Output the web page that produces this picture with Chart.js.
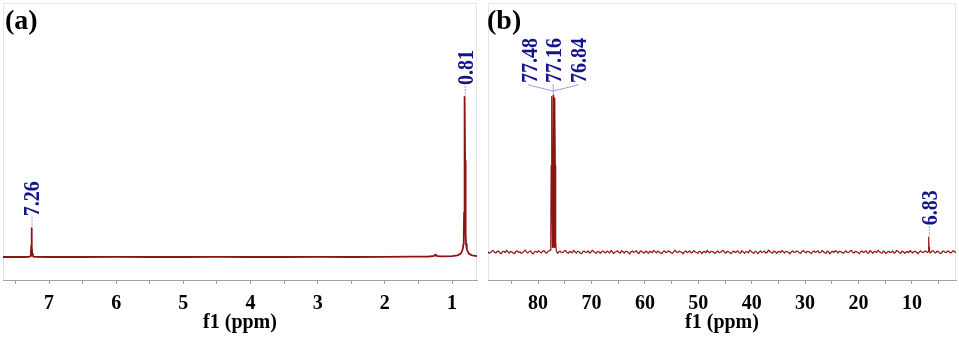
<!DOCTYPE html>
<html><head><meta charset="utf-8">
<script src="https://cdn.jsdelivr.net/npm/chart.js@4/dist/chart.umd.min.js"></script>
<style>
html,body{margin:0;padding:0;background:#fff;}
#wrap{position:relative;width:959px;height:337px;overflow:hidden;background:#fff;}
canvas{position:absolute;top:0;}
</style></head><body>
<div id="wrap">
<canvas id="ca" width="480" height="337" style="left:0"></canvas>
<canvas id="cb" width="479" height="337" style="left:480px"></canvas>
</div>
<script>
// ---------- data ----------
const panelTitles = ['(a)', '(b)'];
const axisTitle = 'f1 (ppm)';

// panel (a): 1H spectrum
const rangeA = [0.628, 7.685];
const tickLabelsA = [7, 6, 5, 4, 3, 2, 1];
const tickMarksA = [7.5, 7, 6.5, 6, 5.5, 5, 4.5, 4, 3.5, 3, 2.5, 2, 1.5, 1];
const peakGroupsA = [[7.26], [0.81]];
const spectrumA = [
  [7.685,0],[7.5,0.1],[7.35,0],[7.30,0.1],[7.28,0.5],[7.27,2],[7.265,7],[7.26,18],[7.255,7],[7.25,2],[7.24,0.5],[7.22,0.1],
  [7.0,0],[6.5,0],[6.0,0.1],[5.5,0],[5.0,0],[4.5,0.1],[4.0,0],[3.5,0],[3.0,0.1],[2.5,0],[2.0,0.1],[1.6,0.2],
  [1.35,0.3],[1.28,0.5],[1.26,1],[1.25,1.5],[1.24,1],[1.22,0.5],[1.15,0.4],[1.0,0.6],[0.92,1],[0.88,1.8],[0.86,2.8],
  [0.84,5],[0.83,8],[0.825,14],[0.82,28],[0.815,60],[0.81,100],[0.805,60],[0.80,28],[0.795,14],[0.79,8],[0.78,5],
  [0.76,2.8],[0.74,1.8],[0.70,1],[0.628,0.6]
];

// panel (b): 13C spectrum
const rangeB = [1.75, 89.375];
const tickLabelsB = [80, 70, 60, 50, 40, 30, 20, 10];
const tickMarksB = [85, 80, 75, 70, 65, 60, 55, 50, 45, 40, 35, 30, 25, 20, 15, 10, 5];
const peakGroupsB = [[77.48, 77.16, 76.84], [6.83]];
const spectrumB = [
  [89.40,0.2],[89.15,-0.8],[88.90,-0.3],[88.65,0.7],[88.40,1.0],[88.15,-0.2],[87.90,-0.6],[87.65,0.4],[87.40,0.6],[87.15,-0.5],
  [86.90,-1.1],[86.65,0.3],[86.40,0.5],[86.15,-0.4],[85.90,1.2],[85.65,0.1],[85.40,-0.7],[85.15,0.5],[84.90,0.0],[84.65,-0.6],
  [84.40,-1.0],[84.15,0.4],[83.90,0.8],[83.65,-0.3],[83.40,0.2],[83.15,-0.9],[82.90,-0.4],[82.65,0.6],[82.40,1.3],[82.15,-0.1],
  [81.90,-0.5],[81.65,0.3],[81.40,0.7],[81.15,-0.6],[80.90,-1.2],[80.65,0.2],[80.40,0.4],[80.15,-0.3],[79.90,0.9],[79.65,0.1],
  [79.40,-0.6],[79.15,0.5],[78.90,1.0],[78.65,-0.2],[78.40,-0.7],[78.15,0.3],[77.90,0.8],
  [77.75,1.2],[77.62,6],[77.55,55],[77.48,99],[77.41,55],[77.32,3],[77.23,58],[77.16,100],[77.09,58],[77.00,3],
  [76.91,55],[76.84,98],[76.77,55],[76.70,6],[76.58,0.8],
  [76.35,-0.9],[76.10,0.2],[75.85,0.5],[75.60,-0.4],[75.35,-0.2],[75.10,0.7],[74.85,0.9],[74.60,-0.3],[74.35,-0.8],[74.10,0.4],
  [73.85,0.1],[73.60,-0.5],[73.35,1.1],[73.10,0.2],[72.85,-0.6],[72.60,0.5],[72.35,0.2],[72.10,-0.7],[71.85,-1.1],[71.60,0.3],
  [71.35,0.6],[71.10,-0.2],[70.85,0.0],[70.60,0.8],[70.35,-0.7],[70.10,-0.1],[69.85,1.2],[69.60,0.4],[69.35,-0.3],[69.10,-0.8],
  [68.85,0.5],[68.60,0.2],[68.35,-0.9],[68.10,0.3],[67.85,0.7],[67.60,-0.2],[67.35,-0.5],[67.10,0.6],[66.85,0.1],[66.60,-0.6],
  [66.35,1.0],[66.10,0.3],[65.85,-1.0],[65.60,-0.1],[65.35,0.4],[65.10,0.8],[64.85,-0.3],[64.60,-0.7],[64.35,0.9],[64.10,0.2],
  [63.85,-0.6],[63.60,0.5],[63.35,0.3],[63.10,-0.4],[62.85,-1.2],[62.60,0.1],[62.35,0.7],[62.10,-0.2],[61.85,0.2],[61.60,0.9],
  [61.35,-0.5],[61.10,-0.9],[60.85,0.8],[60.60,0.3],[60.35,-0.3],[60.10,-0.7],[59.85,0.6],[59.60,0.1],[59.35,-0.9],[59.10,0.4],
  [58.85,0.2],[58.60,-0.4],[58.35,1.1],[58.10,0.3],[57.85,-0.5],[57.60,0.6],[57.35,0.2],[57.10,-0.6],[56.85,-1.0],[56.60,0.2],
  [56.35,0.8],[56.10,-0.3],[55.85,-0.1],[55.60,0.7],[55.35,0.4],[55.10,-0.5],[54.85,-0.8],[54.60,0.3],[54.35,1.2],[54.10,0.0],
  [53.85,-0.4],[53.60,0.6],[53.35,0.2],[53.10,-0.3],[52.85,-1.1],[52.60,0.1],[52.35,0.7],[52.10,-0.4],[51.85,0.0],[51.60,0.8],
  [51.35,-0.6],[51.10,-0.2],[50.85,0.9],[50.60,0.2],[50.35,-0.3],[50.10,-0.8],[49.85,0.5],[49.60,0.3],[49.35,-1.0],[49.10,0.1],
  [48.85,0.4],[48.60,-0.5],[48.35,1.0],[48.10,0.2],[47.85,-0.6],[47.60,0.5],[47.35,0.3],[47.10,-0.2],[46.85,-0.9],[46.60,0.1],
  [46.35,0.7],[46.10,-0.4],[45.85,-0.2],[45.60,0.6],[45.35,1.1],[45.10,-0.1],[44.85,-0.7],[44.60,0.4],[44.35,0.3],[44.10,-0.5],
  [43.85,-1.1],[43.60,0.2],[43.35,0.6],[43.10,-0.3],[42.85,0.1],[42.60,0.8],[42.35,-0.4],[42.10,-0.8],[41.85,0.9],[41.60,0.1],
  [41.35,-0.8],[41.10,0.3],[40.85,0.2],[40.60,-0.5],[40.35,1.2],[40.10,0.4],[39.85,-0.3],[39.60,-0.9],[39.35,0.5],[39.10,0.2],
  [38.85,-1.0],[38.60,0.0],[38.35,0.7],[38.10,-0.3],[37.85,0.0],[37.60,0.6],[37.35,-0.7],[37.10,-0.2],[36.85,1.3],[36.60,0.3],
  [36.35,-0.3],[36.10,-0.8],[35.85,0.6],[35.60,0.2],[35.35,-0.9],[35.10,0.1],[34.85,0.4],[34.60,-0.4],[34.35,1.0],[34.10,0.3],
  [33.85,-0.6],[33.60,0.5],[33.35,0.2],[33.10,-0.3],[32.85,-1.1],[32.60,0.0],[32.35,0.8],[32.10,-0.2],[31.85,-0.1],[31.60,0.7],
  [31.35,0.4],[31.10,-0.5],[30.85,-0.8],[30.60,0.2],[30.35,1.1],[30.10,0.1],[29.85,-0.5],[29.60,0.5],[29.35,0.3],[29.10,-0.4],
  [28.85,-1.0],[28.60,0.2],[28.35,0.7],[28.10,-0.2],[27.85,0.1],[27.60,0.8],[27.35,-0.6],[27.10,-0.3],[26.85,1.0],[26.60,0.3],
  [26.35,-0.4],[26.10,-0.9],[25.85,0.6],[25.60,0.1],[25.35,-1.2],[25.10,0.0],[24.85,0.5],[24.60,-0.3],[24.35,0.9],[24.10,0.4],
  [23.85,-0.7],[23.60,0.5],[23.35,0.3],[23.10,-0.2],[22.85,-0.9],[22.60,0.1],[22.35,0.8],[22.10,-0.3],[21.85,-0.2],[21.60,0.6],
  [21.35,1.1],[21.10,-0.1],[20.85,-0.6],[20.60,0.4],[20.35,0.3],[20.10,-0.5],[19.85,-1.1],[19.60,0.2],[19.35,0.7],[19.10,-0.3],
  [18.85,0.1],[18.60,0.8],[18.35,-0.5],[18.10,-0.8],[17.85,1.0],[17.60,0.2],[17.35,-0.8],[17.10,0.3],[16.85,0.4],[16.60,-0.4],
  [16.35,1.2],[16.10,0.3],[15.85,-0.4],[15.60,-0.8],[15.35,0.6],[15.10,0.1],[14.85,-1.0],[14.60,0.0],[14.35,0.5],[14.10,-0.3],
  [13.85,-0.1],[13.60,0.7],[13.35,-0.7],[13.10,-0.2],[12.85,1.1],[12.60,0.3],[12.35,-0.3],[12.10,-0.9],[11.85,0.7],[11.60,0.2],
  [11.35,-0.9],[11.10,0.1],[10.85,0.3],[10.60,-0.4],[10.35,1.0],[10.10,0.2],[9.85,-0.6],[9.60,0.5],[9.35,0.4],[9.10,-0.3],
  [8.85,-1.1],[8.60,0.1],[8.35,0.8],[8.10,-0.2],[7.85,-0.3],[7.60,0.6],[7.35,0.4],[7.10,-0.4],
  [6.98,0.2],[6.90,0.8],[6.86,3],[6.83,9.5],[6.80,3],[6.76,0.8],[6.68,0.1],
  [6.55,-0.6],[6.30,0.5],[6.05,0.9],[5.80,-0.2],[5.55,-0.5],[5.30,0.6],[5.05,0.3],[4.80,-0.7],[4.55,-0.9],[4.30,0.4],
  [4.05,0.7],[3.80,-0.1],[3.55,-0.4],[3.30,0.8],[3.05,0.2],[2.80,-0.6],[2.55,-0.2],[2.30,0.9],[2.05,0.3],[1.75,-0.4]
];

// ---------- styles ----------
const FONT = 'Liberation Serif';
const LINE_COLOR = '#8e1414';
const LABEL_COLOR = '#14148a';
const CONNECT_COLOR = '#9aa2d4';

const framePlugin = {
  id: 'frame',
  beforeDraw(chart, args, opts) {
    const {ctx, chartArea: a} = chart;
    ctx.save();
    ctx.strokeStyle = '#e6e6e6';
    ctx.lineWidth = 1;
    ctx.strokeRect(a.left + 0.5, a.top + 0.5, a.right - a.left - 1, a.bottom - a.top);
    ctx.restore();
  },
  afterDraw(chart, args, opts) {
    const ctx = chart.ctx;
    ctx.save();
    ctx.fillStyle = '#000';
    ctx.font = 'bold 28px "' + FONT + '"';
    ctx.textBaseline = 'alphabetic';
    ctx.fillText(opts.title, opts.titleX, 29);
    ctx.restore();
  }
};

const peakLabelPlugin = {
  id: 'peakLabels',
  afterDatasetsDraw(chart, args, opts) {
    const {ctx} = chart;
    const xs = chart.scales.x, ys = chart.scales.y;
    const data = chart.data.datasets[0].data;
    opts.groups.forEach(group => {
      const lo = Math.min(...group) - 0.12, hi = Math.max(...group) + 0.12;
      let top = -Infinity;
      data.forEach(p => { if (p.x >= lo && p.x <= hi && p.y > top) top = p.y; });
      const topPx = ys.getPixelForValue(top);
      const mid = group.reduce((s, v) => s + v, 0) / group.length;
      const cx = xs.getPixelForValue(mid);
      const n = group.length;
      const bottom = topPx - opts.gap;
      ctx.save();
      ctx.strokeStyle = CONNECT_COLOR;
      ctx.lineWidth = 1;
      if (n === 1) {
        ctx.setLineDash([2, 1]);
        ctx.beginPath();
        ctx.moveTo(cx + 0.5, bottom + 1);
        ctx.lineTo(cx + 0.5, topPx - 1);
        ctx.stroke();
      } else {
        const joinY = topPx - 4;
        group.forEach((v, i) => {
          const lx = cx + (i - (n - 1) / 2) * opts.spread;
          ctx.beginPath();
          ctx.moveTo(lx, bottom + 1);
          ctx.lineTo(lx, bottom + 2);
          ctx.lineTo(cx, joinY);
          ctx.stroke();
        });
        ctx.beginPath();
        ctx.moveTo(cx, joinY);
        ctx.lineTo(cx, topPx - 1);
        ctx.stroke();
      }
      ctx.setLineDash([]);
      ctx.fillStyle = LABEL_COLOR;
      ctx.font = 'bold 20px "' + FONT + '"';
      ctx.textAlign = 'left';
      ctx.textBaseline = 'middle';
      group.forEach((v, i) => {
        const lx = n === 1 ? cx : cx + (i - (n - 1) / 2) * opts.spread;
        ctx.save();
        ctx.translate(lx + 0.5, bottom);
        ctx.scale(1.2, 1);
        ctx.rotate(-Math.PI / 2);
        ctx.fillText(v.toFixed(2), 0, 1);
        ctx.restore();
      });
      ctx.restore();
    });
  }
};

function makeChart(id, spectrum, range, tickMarks, tickLabels, groups, yRange, pad, title, titleX, lw) {
  return new Chart(document.getElementById(id), {
    type: 'line',
    data: {
      datasets: [{
        data: spectrum.map(p => ({x: p[0], y: p[1]})),
        borderColor: LINE_COLOR,
        borderWidth: lw,
        borderJoinStyle: 'round',
        borderCapStyle: 'round',
        pointRadius: 0,
        tension: 0,
        fill: false
      }]
    },
    options: {
      responsive: false,
      animation: false,
      devicePixelRatio: 1,
      layout: {padding: pad},
      plugins: {
        legend: {display: false},
        tooltip: {enabled: false},
        frame: {title: title, titleX: titleX},
        peakLabels: {groups: groups, gap: 12, spread: 24.5}
      },
      scales: {
        x: {
          type: 'linear',
          reverse: true,
          min: range[0],
          max: range[1],
          position: 'bottom',
          afterBuildTicks: s => { s.ticks = tickMarks.map(v => ({value: v})); },
          afterFit: s => { s.height = 57; },
          ticks: {
            autoSkip: false,
            maxRotation: 0,
            padding: 8,
            color: '#000',
            font: {family: FONT, weight: 'bold', size: 20},
            callback: v => tickLabels.includes(v) ? String(v) : ''
          },
          grid: {display: true, drawOnChartArea: false, tickLength: 4, color: '#9c9c9c'},
          border: {display: true, color: '#a4a4a4', width: 1},
          title: {
            display: true, text: axisTitle, color: '#000',
            font: {family: FONT, weight: 'bold', size: 20},
            padding: {top: 0, bottom: 2}
          }
        },
        y: {display: false, min: yRange[0], max: yRange[1]}
      }
    },
    plugins: [framePlugin, peakLabelPlugin]
  });
}

makeChart('ca', spectrumA, rangeA, tickMarksA, tickLabelsA, peakGroupsA, [-14.375, 158.75],
  {left: 3, right: 3, top: 3, bottom: 0}, panelTitles[0], 5, 1.8);
makeChart('cb', spectrumB, rangeB, tickMarksB, tickLabelsB, peakGroupsB, [-17.8, 158.6],
  {left: 8, right: 3, top: 3, bottom: 0}, panelTitles[1], 7, 1.2);
</script>
</body></html>
